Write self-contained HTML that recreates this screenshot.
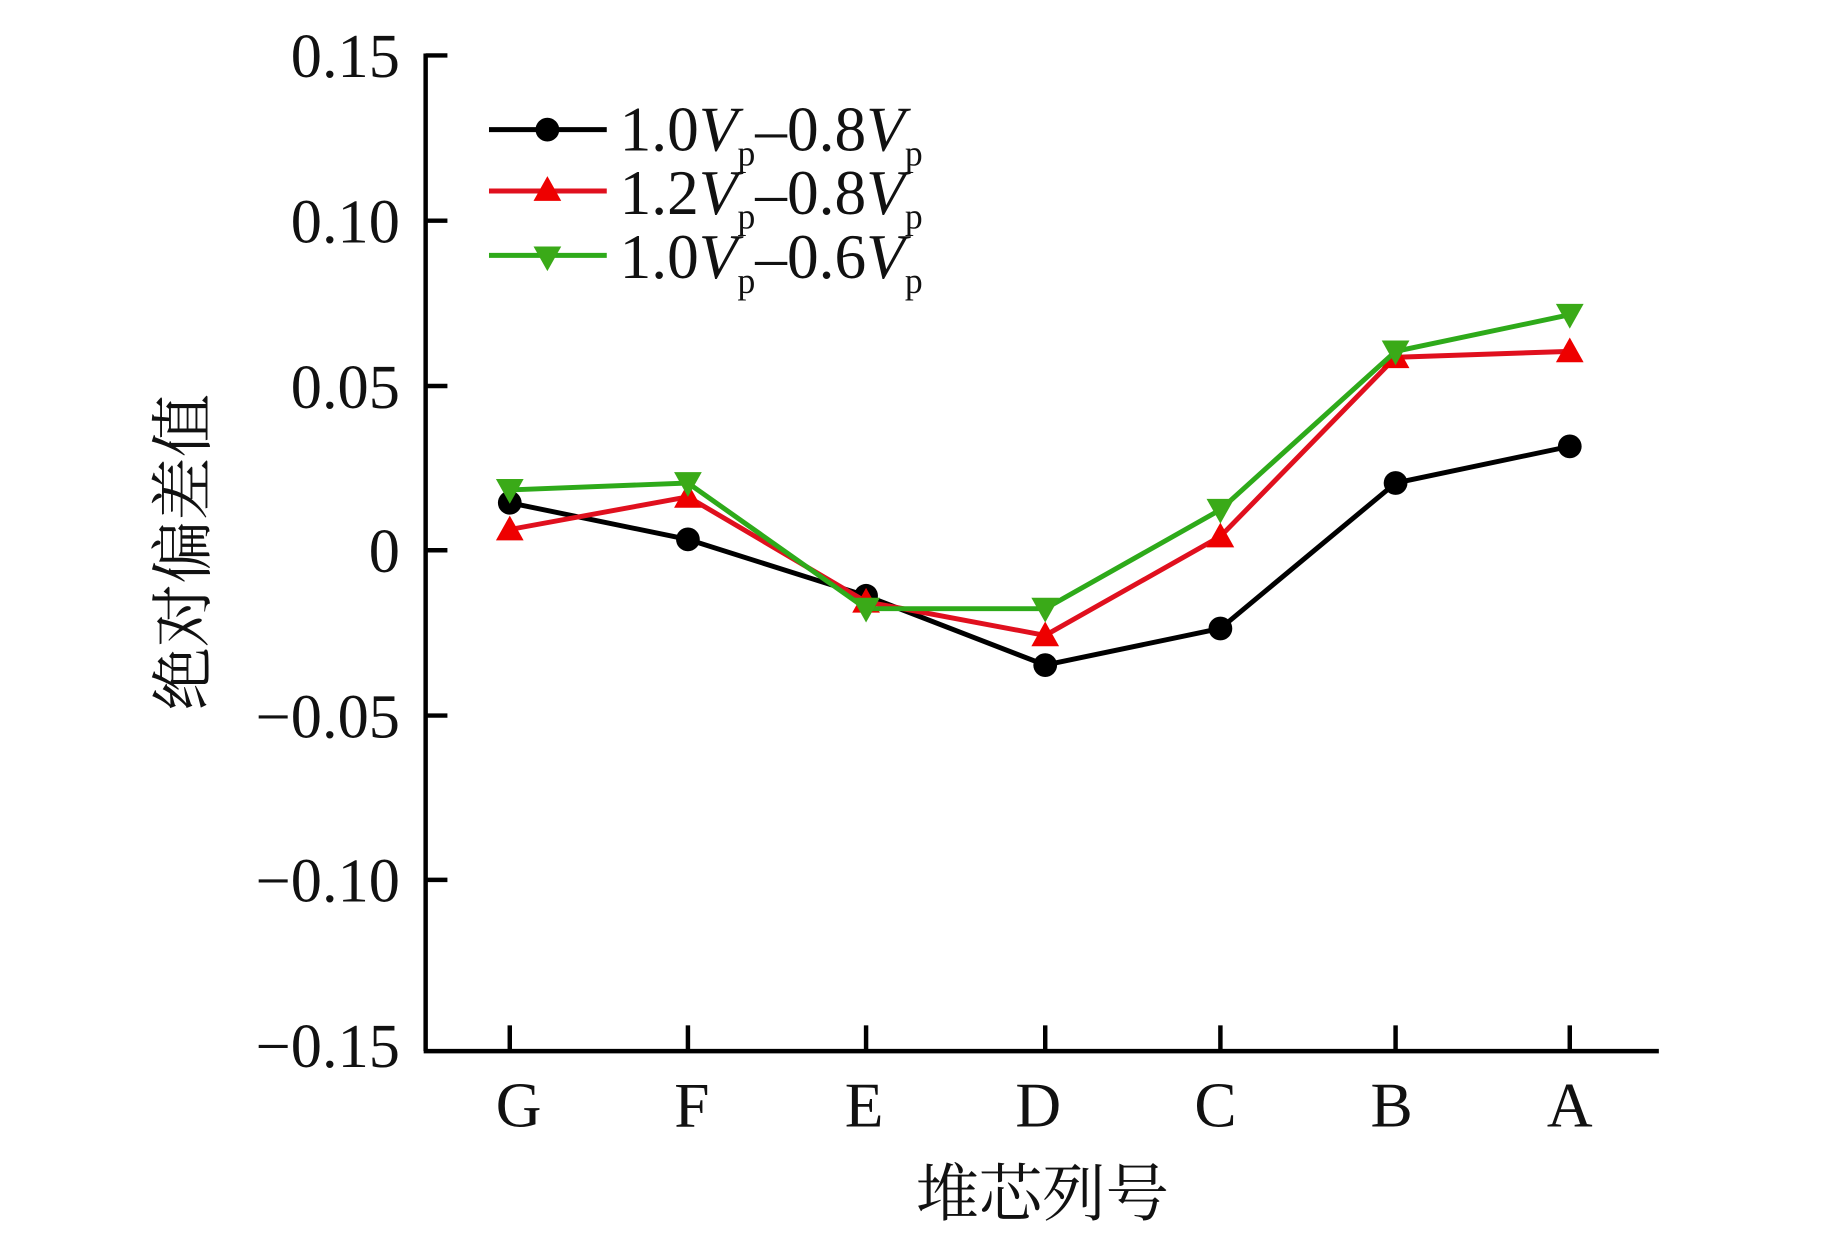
<!DOCTYPE html>
<html><head><meta charset="utf-8"><style>
html,body{margin:0;padding:0;background:#fff;}
svg{display:block;}
text{font-family:"Liberation Serif","Noto Serif CJK SC",serif;fill:#111;}
.cjk{font-family:"Liberation Serif","Noto Serif CJK SC","Noto Sans CJK SC",serif;}
</style></head><body>
<svg width="1843" height="1252" viewBox="0 0 1862 1265" xmlns="http://www.w3.org/2000/svg">
<g stroke="#000" stroke-width="4.5" fill="none">
<line x1="430" y1="54" x2="430" y2="1062"/>
<line x1="428" y1="1062" x2="1676" y2="1062"/>
<line x1="430" y1="56" x2="452" y2="56"/>
<line x1="430" y1="223" x2="452" y2="223"/>
<line x1="430" y1="390" x2="452" y2="390"/>
<line x1="430" y1="556" x2="452" y2="556"/>
<line x1="430" y1="723" x2="452" y2="723"/>
<line x1="430" y1="889" x2="452" y2="889"/>
<line x1="515" y1="1062" x2="515" y2="1036"/>
<line x1="695" y1="1062" x2="695" y2="1036"/>
<line x1="875" y1="1062" x2="875" y2="1036"/>
<line x1="1056" y1="1062" x2="1056" y2="1036"/>
<line x1="1233" y1="1062" x2="1233" y2="1036"/>
<line x1="1410" y1="1062" x2="1410" y2="1036"/>
<line x1="1586" y1="1062" x2="1586" y2="1036"/>
</g>
<g font-size="63" text-anchor="end">
<text x="404" y="78">0.15</text>
<text x="404" y="245">0.10</text>
<text x="404" y="412">0.05</text>
<text x="404" y="578">0</text>
<text x="404" y="745">−0.05</text>
<text x="404" y="911">−0.10</text>
<text x="404" y="1078">−0.15</text>
</g>
<g font-size="64" text-anchor="middle">
<text x="524" y="1138">G</text>
<text x="699" y="1138">F</text>
<text x="873" y="1138">E</text>
<text x="1049" y="1138">D</text>
<text x="1228" y="1138">C</text>
<text x="1406" y="1138">B</text>
<text x="1586" y="1138">A</text>
</g>
<text class="cjk" x="1053" y="1228" font-size="64" text-anchor="middle">堆芯列号</text>
<text class="cjk" transform="translate(207,558) rotate(-90)" font-size="64" text-anchor="middle">绝对偏差值</text>

<polyline fill="none" stroke="#000" stroke-width="5" points="515,508 695,545 875,602 1056,672 1233,635 1410,488 1586,451"/>
<g fill="#000">
<circle cx="515" cy="508" r="12"/><circle cx="695" cy="545" r="12"/><circle cx="875" cy="602" r="12"/><circle cx="1056" cy="672" r="12"/><circle cx="1233" cy="635" r="12"/><circle cx="1410" cy="488" r="12"/><circle cx="1586" cy="451" r="12"/>
</g>
<polyline fill="none" stroke="#e0101e" stroke-width="5" points="515,535 695,502 875,608 1056,642 1233,542 1410,361 1586,355"/>
<g fill="#ee0000">
<polygon points="515,521 529,546 501,546"/><polygon points="695,488 709,513 681,513"/><polygon points="875,594 889,619 861,619"/><polygon points="1056,628 1070,653 1042,653"/><polygon points="1233,528 1247,553 1219,553"/><polygon points="1410,347 1424,372 1396,372"/><polygon points="1586,341 1600,366 1572,366"/>
</g>
<polyline fill="none" stroke="#2eaa1a" stroke-width="5" points="515,495 695,488 875,615 1056,615 1233,515 1410,355 1586,318"/>
<g fill="#3aaa18">
<polygon points="501,484 529,484 515,509"/><polygon points="681,477 709,477 695,502"/><polygon points="861,604 889,604 875,629"/><polygon points="1042,604 1070,604 1056,629"/><polygon points="1219,504 1247,504 1233,529"/><polygon points="1396,344 1424,344 1410,369"/><polygon points="1572,307 1600,307 1586,332"/>
</g>

<line x1="494" y1="131" x2="613" y2="131" stroke="#000" stroke-width="5"/>
<circle cx="553" cy="131" r="12" fill="#000"/>
<line x1="494" y1="193" x2="613" y2="193" stroke="#e0101e" stroke-width="5"/>
<polygon points="553,178 567,203 539,203" fill="#ee0000"/>
<line x1="494" y1="258" x2="613" y2="258" stroke="#2eaa1a" stroke-width="5"/>
<polygon points="539,249 567,249 553,274" fill="#3aaa18"/>
<g font-size="64">
<text x="626" y="152">1.0<tspan font-style="italic">V</tspan><tspan font-size="36" dy="15">p</tspan><tspan dy="-15">–0.8</tspan><tspan font-style="italic">V</tspan><tspan font-size="36" dy="15">p</tspan></text>
<text x="626" y="216">1.2<tspan font-style="italic">V</tspan><tspan font-size="36" dy="15">p</tspan><tspan dy="-15">–0.8</tspan><tspan font-style="italic">V</tspan><tspan font-size="36" dy="15">p</tspan></text>
<text x="626" y="281">1.0<tspan font-style="italic">V</tspan><tspan font-size="36" dy="15">p</tspan><tspan dy="-15">–0.6</tspan><tspan font-style="italic">V</tspan><tspan font-size="36" dy="15">p</tspan></text>
</g>
</svg>
</body></html>
